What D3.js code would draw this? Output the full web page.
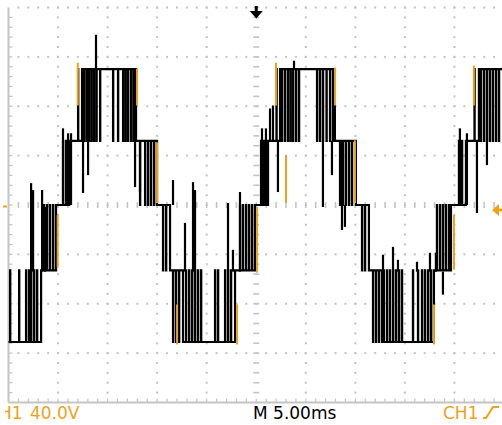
<!DOCTYPE html>
<html>
<head>
<meta charset="utf-8">
<script src="https://cdn.jsdelivr.net/npm/d3@7"></script>
<style>
  body { margin: 0; background: #fff; }
  svg { display: block; }
</style>
</head>
<body>
<script>
// ----------------------------------- DATA --------------------------------------------
// time in ms (5 ms/div), voltage in V (40 V/div), trigger at t = 0

// level changes of the stepped wave
var stepT = [-25, -21.71, -20.20, -18.89, -17.58, -12.13, -10.01, -8.70, -7.39, -2.14, -0.13,
             1.19, 2.40, 7.94, 10.06, 11.37, 12.89, 17.93, 19.65, 21.16, 22.47]
var stepV = [-111, -53, 0, 52, 110, 52, 0, -53, -111, -53, 0,
             52, 110, 52, 0, -53, -111, -53, 0, 52, 110]

// short switching pulses to the next level
var pulseT = [-24.84, -23.93, -23.23, -22.93, -22.72, -22.42, -22.12,
              -21.41, -21.11, -20.81, -20.50,
              -19.50, -19.19,
              -17.98,
              -17.38, -17.12, -16.87, -16.62, -16.37, -16.12, -15.76, -14.45, -13.95, -13.44, -13.19, -12.94, -12.64, -12.38,
              -11.73, -11.22, -10.92, -10.62, -10.31,
              -9.41, -9.10,
              -8.40, -8.10, -7.79,
              -7.09, -6.78, -6.48, -6.18, -5.88, -5.57, -4.16, -3.86, -3.15, -2.85, -2.55,
              -1.64, -1.34, -1.03, -0.73, -0.43,
              0.48, 0.78,
              2.04,
              2.60, 2.90, 3.20, 3.46, 3.71, 4.01, 4.31, 6.13, 6.43, 6.73, 7.09, 7.44, 7.74,
              8.45, 8.75, 9.05, 9.36, 9.66,
              10.67, 10.97,
              11.78, 12.08, 12.38, 12.69,
              13.19, 13.49, 13.80, 14.10, 14.40, 14.70, 15.81, 16.32, 16.72, 17.02, 17.33, 17.63,
              18.23, 18.54, 18.84, 19.14, 19.45,
              20.45, 20.76,
              22.02,
              22.67, 22.98, 23.28, 23.58, 23.88, 24.19, 24.49]
var pulseV = [-53, -53, -53, -53, -53, -53, -53,
              0, 0, 0, 0,
              52, 52,
              110,
              52, 52, 52, 52, 52, 52, 52, 52, 52, 52, 52, 52, 52, 52,
              0, 0, 0, 0, 0,
              -53, -53,
              -111, -111, -111,
              -53, -53, -53, -53, -53, -53, -53, -53, -53, -53, -53,
              0, 0, 0, 0, 0,
              52, 52,
              110,
              52, 52, 52, 52, 52, 52, 52, 52, 52, 52, 52, 52, 52,
              0, 0, 0, 0, 0,
              -53, -53,
              -111, -111, -111, -111,
              -53, -53, -53, -53, -53, -53, -53, -53, -53, -53, -53, -53,
              0, 0, 0, 0, 0,
              52, 52,
              110,
              52, 52, 52, 52, 52, 52, 52]

// ringing spikes
var spikeT   = [-22.72, -22.52, -21.61, -21.31, -19.50, -18.99, -18.69, -17.48, -16.97, -16.17, -12.23, -11.73,
                -8.40, -7.19, -6.38, -6.18, -2.85, -2.35, -1.64, 0.58, 0.98, 1.39, 1.69, 2.19, 3.81,
                6.73, 7.64, 8.65, 8.95, 12.79, 13.80, 14.30, 16.22, 17.53, 18.13, 18.84, 20.55, 21.26, 22.27, 23.28]
var spikeTop = [17.7, 12.1, 12.1, -1.6, 62.1, 58.1, 58.1, 110, 110, 137.9, 110, 52,
                20.2, -14.5, 18.5, 12.1, 1.6, -36.3, 10.5, 62.1, 62.1, 78.2, 80.6, 52, 116.9,
                52, 52, 52, 0, -40.3, -33.9, -44.4, -46.0, -38.7, -38.7, -54, 62.1, 58.1, 52, 52]
var spikeBot = [-54, -54, -54, -54, 0, 0, 0, 9.7, 24.2, 110, 14.5, 10.5,
                0, -54, -54, -54, -54, -54, -54, 0, 0, 52, 52, 10.5, 110,
                -1.6, 24.2, -20.2, -17.7, -54, -54, -54, -54, -54, -54, -72.6, 0, 0, -6.5, 32.3]

// orange (intensity) segments
var markT   = [-20.04, -18.01, -12.03, -10.01, -7.99, -1.94, 0.08, 1.99, 3.00, 7.95, 9.96, 17.93, 19.95, 21.96]
var markTop = [-8.1, 115.3, 110.5, 50.8, -80.6, -80.6, -1.6, 115.3, 40.3, 111.3, 52.4, -80.6, -8.1, 112.9]
var markBot = [-50.8, 80.6, 80.6, 1.6, -112.9, -112.9, -54.8, 80.6, 1.6, 80.6, 1.6, -112.9, -52.4, 80.6]

var chLabel = 'CH1'
var voltLabel = '40.0V'
var timeLabel = 'M 5.00ms'

// ----------------------------------- SVG --------------------------------------------
var width = 502
var height = 425
var orange = '#eea21a'
var gridGray = '#c4c4c4'

var svg = d3.select('body')
  .append('svg')
  .attr('width', width)
  .attr('height', height)

svg.append('rect')
  .attr('width', '100%')
  .attr('height', '100%')
  .attr('fill', '#fff')

var x = d3.scaleLinear().domain([-25, 25]).range([8.5, 504])
var y = d3.scaleLinear().domain([-160, 160]).range([402.5, 7.5])

var minorT = d3.range(-25, 25.01, 1)
var minorV = d3.range(-160, 160.1, 8)
var majorT = d3.range(-20, 20.1, 5).filter(d => d !== 0)
var majorV = d3.range(-120, 160.1, 40).filter(d => d !== 0)

// ----------------------------------- GRATICULE --------------------------------------------
var grid = svg.append('g')

// dots on vertical lines
majorT.forEach(function(t) {
  grid.selectAll(null)
    .data(minorV.filter(v => v > -160))
    .enter()
    .append('rect')
    .attr('x', x(t) - 1)
    .attr('y', d => y(d) - 1)
    .attr('width', 2)
    .attr('height', 2)
    .attr('fill', gridGray)
})

// dots on horizontal rows
majorV.forEach(function(v) {
  grid.selectAll(null)
    .data(minorT.filter(t => t > -25))
    .enter()
    .append('rect')
    .attr('x', d => x(d) - 1)
    .attr('y', y(v) - 1)
    .attr('width', 2)
    .attr('height', 2)
    .attr('fill', gridGray)
})

// centre column dashes
grid.selectAll(null)
  .data(minorV.filter(v => v > -160))
  .enter()
  .append('line')
  .attr('x1', x(0) - 3).attr('x2', x(0) + 3)
  .attr('y1', d => y(d)).attr('y2', d => y(d))
  .attr('stroke', gridGray)
  .attr('stroke-width', 1.6)

// centre row dashes
grid.selectAll(null)
  .data(minorT.filter(t => t > -25))
  .enter()
  .append('line')
  .attr('x1', d => x(d)).attr('x2', d => x(d))
  .attr('y1', y(0) - 3).attr('y2', y(0) + 3)
  .attr('stroke', gridGray)
  .attr('stroke-width', 1.6)

// left border + ticks
grid.append('line')
  .attr('x1', x(-25)).attr('x2', x(-25))
  .attr('y1', y(160)).attr('y2', y(-160))
  .attr('stroke', gridGray)
  .attr('stroke-width', 2)

grid.selectAll(null)
  .data(minorV.filter(v => v > -160 && v < 160))
  .enter()
  .append('line')
  .attr('x1', x(-25)).attr('x2', x(-25) + 4)
  .attr('y1', d => y(d)).attr('y2', d => y(d))
  .attr('stroke', gridGray)
  .attr('stroke-width', 1.2)

// bottom border + ticks
grid.append('line')
  .attr('x1', x(-25)).attr('x2', width)
  .attr('y1', y(-160)).attr('y2', y(-160))
  .attr('stroke', gridGray)
  .attr('stroke-width', 2)

grid.selectAll(null)
  .data(minorT.filter(t => t > -25))
  .enter()
  .append('line')
  .attr('x1', d => x(d)).attr('x2', d => x(d))
  .attr('y1', y(-160)).attr('y2', y(-160) - 4)
  .attr('stroke', gridGray)
  .attr('stroke-width', 1.2)

// ----------------------------------- TRACE --------------------------------------------
var events = []
stepT.forEach(function(t, i) { events.push({t: t, v: stepV[i], step: true}) })
pulseT.forEach(function(t, i) { events.push({t: t, v: pulseV[i], step: false}) })
events.sort((a, b) => a.t - b.t)

var pulseW = 0.02
var base = stepV[0]
var points = []
events.forEach(function(e) {
  if (e.step) {
    points.push([e.t, e.v])
    base = e.v
  } else {
    points.push([e.t, e.v])
    points.push([e.t + pulseW, base])
  }
})
points.push([25, base])

var line = d3.line()
  .x(d => x(d[0]))
  .y(d => y(d[1]))
  .curve(d3.curveStepAfter)

svg.append('path')
  .datum(points)
  .attr('d', line)
  .attr('fill', 'none')
  .attr('stroke', '#000')
  .attr('stroke-width', 2.2)

svg.selectAll('.spike')
  .data(spikeT)
  .enter()
  .append('line')
  .attr('class', 'spike')
  .attr('x1', d => x(d)).attr('x2', d => x(d))
  .attr('y1', (d, i) => y(spikeTop[i]))
  .attr('y2', (d, i) => y(spikeBot[i]))
  .attr('stroke', '#000')
  .attr('stroke-width', 2.2)

svg.selectAll('.mark')
  .data(markT)
  .enter()
  .append('line')
  .attr('class', 'mark')
  .attr('x1', d => x(d)).attr('x2', d => x(d))
  .attr('y1', (d, i) => y(markTop[i]))
  .attr('y2', (d, i) => y(markBot[i]))
  .attr('stroke', orange)
  .attr('stroke-width', 2)

// ----------------------------------- MARKERS --------------------------------------------
// trigger position (top)
svg.append('path')
  .attr('d', 'M' + (x(0) - 1.5) + ',6 h3 v5 h5 l-6.5,7.5 l-6.5,-7.5 h5 z')
  .attr('fill', '#000')

// trigger level (right)
svg.append('path')
  .attr('d', 'M492,' + y(-4) + ' l7,-6 v4.5 h4 v3 h-4 v4.5 z')
  .attr('fill', orange)

// ground marker (left)
svg.append('rect')
  .attr('x', 3).attr('y', y(0) + 0.5)
  .attr('width', 4).attr('height', 2)
  .attr('fill', orange)

// ----------------------------------- TEXT --------------------------------------------
var clip = svg.append('defs').append('clipPath').attr('id', 'leftcut')
clip.append('rect').attr('x', 5).attr('y', 0).attr('width', width).attr('height', height)

var font = 'DejaVu Sans, sans-serif'

svg.append('text')
  .attr('x', 22.6).attr('y', 419)
  .attr('text-anchor', 'end')
  .attr('clip-path', 'url(#leftcut)')
  .attr('font-family', font).attr('font-size', 17)
  .attr('fill', orange)
  .text(chLabel)

svg.append('text')
  .attr('x', 30).attr('y', 419)
  .attr('font-family', font).attr('font-size', 17)
  .attr('fill', orange)
  .text(voltLabel)

svg.append('text')
  .attr('x', 253).attr('y', 419)
  .attr('font-family', font).attr('font-size', 17)
  .attr('fill', '#000')
  .text(timeLabel)

svg.append('text')
  .attr('x', 443).attr('y', 419)
  .attr('font-family', font).attr('font-size', 17)
  .attr('fill', orange)
  .text(chLabel)

// rising edge symbol
svg.append('path')
  .attr('d', 'M483,418 h3 l7,-11 h6')
  .attr('fill', 'none')
  .attr('stroke', orange)
  .attr('stroke-width', 2)
</script>
</body>
</html>
